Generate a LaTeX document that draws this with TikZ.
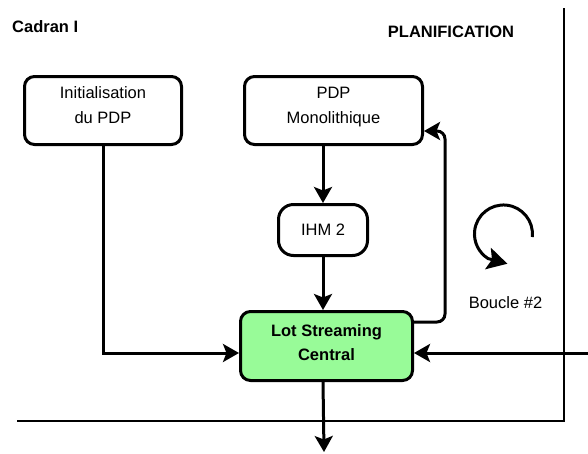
\documentclass[tikz,border=0pt]{standalone}
\usepackage{fontspec}
\setmainfont{Liberation Sans}
\usetikzlibrary{arrows.meta}
\definecolor{lsgreen}{RGB}{152,251,152}

\begin{document}
\begin{tikzpicture}[x=1pt,y=1pt]
\tikzstyle{every node}+=[inner sep=0pt, font=\fontsize{16.5}{25}\selectfont]
\tikzstyle{titre}=[font=\fontsize{16.5}{25}\selectfont\bfseries]
\tikzstyle{box}=[draw, line width=3pt, rounded corners=10pt, align=center]
\tikzstyle{flow}=[line width=3pt, -{Stealth[length=16pt,width=18pt,inset=3.5pt]}]
\useasboundingbox (0,0) rectangle (588,-453);
\draw [line width=1.8pt] (564,-8) -- (564,-421) -- (17,-421);
\node [titre, anchor=base west] (cadran) at (12,-32) {Cadran I};
\node [titre, anchor=base] (planif) at (451,-37) {PLANIFICATION};
\node [box, minimum width=157, minimum height=68, text depth=10pt] (init) at (103,-110.5) {Initialisation\\du PDP};
\node [box, minimum width=178, minimum height=68, text depth=10pt] (pdp) at (333.5,-110.5) {PDP\\Monolithique};
\node [box, rounded corners=15pt, minimum width=89, minimum height=51] (ihm) at (323,-230) {IHM 2};
\node [box, fill=lsgreen, minimum width=172, minimum height=69, text depth=6pt, font=\fontsize{16.5}{24}\selectfont\bfseries] (lsc) at (326.5,-346) {Lot Streaming\\Central};
\node [anchor=base] (boucle2) at (505.5,-308) {Boucle \#2};
\coordinate (droite) at (588,-353);
\coordinate (retour) at (445,-322);
\coordinate (haut) at (445,-131);
\coordinate (sortie) at (324,-452);
\draw [flow] (pdp.south -| ihm) -- (ihm.north);
\draw [flow] (ihm.south) -- (lsc.north -| ihm);
\draw [flow] (init.south) |- (lsc.west |- droite);
\draw [flow] (droite) -- (lsc.east |- droite);
\draw [flow, rounded corners=8pt] (lsc.east |- retour) -- (retour) -- (haut) -- (pdp.east |- haut);
\draw [flow] (lsc.south -| ihm) -- (sortie);
\draw [line width=3pt, -{Stealth[length=20pt,width=22pt,inset=4pt]}] (532.3,-237) arc [start angle=-6, end angle=238, radius=29] -- ++(-15:20);
\end{tikzpicture}
\end{document}
